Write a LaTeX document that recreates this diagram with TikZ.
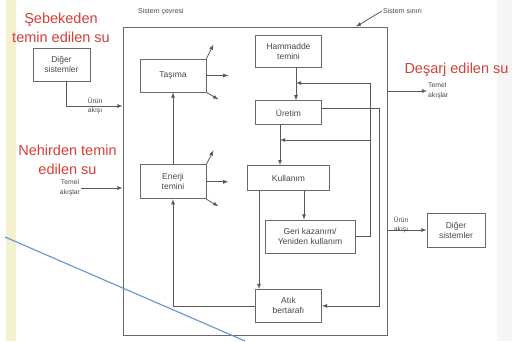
\documentclass[tikz,border=0pt]{standalone}
\usepackage{fontspec}
\setmainfont{Liberation Sans}
\usetikzlibrary{positioning, arrows}

\definecolor{linegray}{RGB}{88,88,88}
\definecolor{boxgray}{RGB}{105,105,105}
\definecolor{notered}{RGB}{214,62,54}
\definecolor{penblue}{RGB}{98,148,206}
\definecolor{stripyellow}{RGB}{244,241,206}

\begin{document}
\begin{tikzpicture}[
     x=1pt, y=-1pt,
     node distance = 33pt and 20pt,
        box/.style = {rectangle, draw=boxgray, line width=0.8pt, minimum width=66pt, minimum height=33pt,
                      inner sep=1pt, align=center, text=black!72, font=\fontsize{8.5}{10}\selectfont},
       flow/.style = {-latex, draw=linegray, line width=0.8pt},
       note/.style = {text=notered, align=center, font=\fontsize{14.5}{18.5}\selectfont},
      small/.style = {inner sep=1pt, align=center, text=black!72, font=\fontsize{6.8}{9.5}\selectfont}
                        ]
\useasboundingbox (0,0) rectangle (512,341);
\fill[stripyellow] (6,0) rectangle (16,341);
\fill[black!4] (497,0) rectangle (512,341);

% system boundary
\node (sys) [draw=boxgray, line width=0.8pt, minimum width=264pt, minimum height=308pt, inner sep=0pt] at (255,181) {};
\node (cevre) [small, font=\fontsize{7}{8}\selectfont] at (161,12) {Sistem çevresi};
\node (sinir) [small, anchor=west, font=\fontsize{7}{8}\selectfont] at (382,11) {Sistem sınırı};

% inner boxes
\node (ham) [box, minimum height=32pt] at (288.5,51) {Hammadde\\temini};
\node (ure) [box, minimum height=24pt, below=of ham] {Üretim};
\node (kul) [box, minimum width=82pt, minimum height=25pt, below=40pt of ure] {Kullanım};
\node (atik) [box, below=98pt of kul] {Atık\\bertarafı};
\node (geri) [box, minimum width=90pt] at (310,236.5) {Geri kazanım/\\Yeniden kullanım};
\node (tas) [box] at (173,75.5) {Taşıma};
\node (ene) [box, minimum height=34pt, below=72pt of tas] {Enerji\\temini};

% outer boxes and labels
\node (dsol) [box, minimum width=57pt] at (61.5,64.5) {Diğer\\sistemler};
\node (dsor) [box, minimum width=58pt, minimum height=34pt] at (456,230) {Diğer\\sistemler};
\node (urunL) [small] at (95,106) {Ürün\\akışı};
\node (temL) [small] at (70,188) {Temel\\akışlar};
\node (temR) [small, anchor=west, align=left] at (427,91) {Temel\\akışlar};
\node (urunR) [small] at (401,225) {Ürün\\akışı};

\node (sebeke) [note] at (61,28) {Şebekeden\\temin edilen su};
\node (nehir) [note] at (67.5,160) {Nehirden temin\\edilen su};
\node (desarj) [note] at (456.5,70) {Deşarj edilen su};

\coordinate (j1) at (296,83);
\coordinate (j2) at (280,140);
\coordinate (r) at ([xshift=15pt]geri.east);
\coordinate (k2) at ([xshift=15.5pt]kul.south);

% flows across the boundary
\draw[flow] ([xshift=5pt]dsol.south) |- (sys.west |- urunL);
\draw[flow] (temL.east) -- (sys.west |- temL);
\draw[flow] (sys.east |- temR.west) -- (temR.west);
\draw[flow] (sys.east |- dsor) -- (dsor.west);
\draw[flow] (sinir.west) -- ([xshift=101pt]sys.north);

% flows inside
\draw[flow] (ene) -- (tas);
\draw[flow] ([xshift=7.5pt]ham.south) -- ([xshift=7.5pt]ure.north);
\draw[flow] ([xshift=-8.5pt]ure.south) -- ([xshift=-8.5pt]kul.north);
\draw[flow] (k2) -- (k2 |- geri.north);
\draw[flow] ([xshift=-29.5pt]kul.south) -- ([xshift=-29.5pt]atik.north);
\draw[flow] (atik.west) -| (ene.south);
\draw[flow] ([yshift=4pt]ure.east) -| ([xshift=57.5pt]atik.east) -- (atik.east);
\draw[flow] (geri.east) -- (r) |- (j1);
\draw[flow] (r |- j2) -- (j2);

% fan-out of transport and energy
\foreach \b in {tas,ene} {
  \draw[flow] (\b.north east) -- ++(7,-14);
  \draw[flow] (\b.east) -- ++(22,0);
  \draw[flow] (\b.south east) -- ++(12,7);
}

\draw[penblue, line width=1.1pt] (5,237) -- (245,341);
\end{tikzpicture}
\end{document}
